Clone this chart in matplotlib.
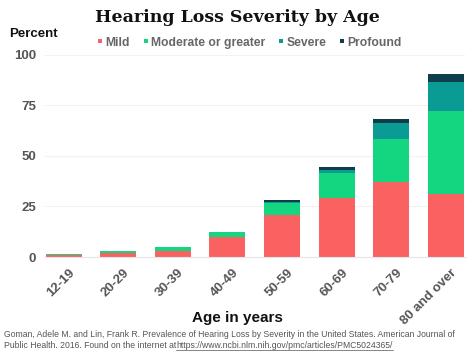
import matplotlib
matplotlib.use("Agg")
import matplotlib.pyplot as plt
import matplotlib.transforms as mtransforms
from matplotlib.lines import Line2D
import numpy as np

# dados (percentual por faixa etária)
idades = ["12-19", "20-29", "30-39", "40-49", "50-59", "60-69", "70-79", "80 and over"]
leve = [0.8, 2.0, 3.0, 9.7, 21.0, 29.0, 37.2, 31.0]
moderada = [0.7, 0.9, 2.0, 2.6, 5.8, 12.5, 21.3, 41.3]
severa = [0.0, 0.0, 0.0, 0.2, 0.6, 1.7, 7.8, 14.0]
profunda = [0.0, 0.0, 0.0, 0.0, 0.9, 1.5, 1.9, 4.2]

nomes = ["Mild", "Moderate or greater", "Severe", "Profound"]
cores = ["#fa6262", "#14d580", "#0a9b95", "#0e3d4c"]
series = [leve, moderada, severa, profunda]

plt.rcParams["font.family"] = ["Liberation Sans", "DejaVu Sans"]

fig = plt.figure(figsize=(4.74, 3.55), dpi=100)
ax = fig.add_axes([0.094, 0.276, 0.887, 0.57])

x = np.arange(len(idades))
base = np.zeros(len(idades))
for nome, cor, vals in zip(nomes, cores, series):
    ax.bar(x, vals, bottom=base, width=0.66, color=cor, label=nome, linewidth=0)
    base += np.array(vals)

ax.set_xlim(-0.35, 7.35)
ax.set_ylim(0, 100)
ax.set_yticks([0, 25, 50, 75, 100])
ax.yaxis.grid(True, color="#f2f2f2", linewidth=0.8)
ax.set_axisbelow(True)
for s in ["top", "right", "left"]:
    ax.spines[s].set_visible(False)
ax.spines["bottom"].set_color("#e6e6e6")
ax.tick_params(axis="both", length=0, colors="#555555", labelsize=9.5)
ax.tick_params(axis="y", pad=6)
ax.tick_params(axis="x", pad=7)
for lab in ax.get_yticklabels():
    lab.set_fontweight("bold")
ax.set_xticks(x)
ax.set_xticklabels(idades, rotation=45, ha="right", rotation_mode="anchor",
                   fontweight="bold", color="#555555")
desloc = mtransforms.ScaledTranslation(5 / 100, 0, fig.dpi_scale_trans)
for lab in ax.get_xticklabels():
    lab.set_transform(lab.get_transform() + desloc)

fig.text(0.5, 0.104, "Age in years", ha="center", va="center", fontsize=11,
         fontweight="bold", color="#111111")

fig.text(0.5, 0.95, "Hearing Loss Severity by Age", ha="center", va="center",
         fontsize=12.5, fontweight="bold", family="DejaVu Serif", color="#111111")
fig.text(0.02, 0.905, "Percent", ha="left", va="center", fontsize=9.5,
         fontweight="bold", color="#111111")

# legenda com pequenos quadrados
marcas = [Line2D([], [], marker="s", linestyle="none", markersize=2.5,
                 markerfacecolor=c, markeredgewidth=0) for c in cores]
leg = fig.legend(marcas, nomes, loc="center", bbox_to_anchor=(0.527, 0.88), ncol=4,
                 frameon=False, fontsize=8.7, handlelength=0.4, handletextpad=0.25,
                 columnspacing=1.1)
for t in leg.get_texts():
    t.set_color("#666666")
    t.set_fontweight("bold")

fig.text(0.008, 0.058, "Goman, Adele M. and Lin, Frank R. Prevalence of Hearing Loss by Severity in the United States. American Journal of",
         fontsize=6.2, color="#555555", va="center")
fig.text(0.008, 0.026, "Public Health. 2016. Found on the internet at", fontsize=6.2, color="#555555", va="center")
fig.text(0.372, 0.026, "https://www.ncbi.nlm.nih.gov/pmc/articles/PMC5024365/", fontsize=6.2,
         color="#555555", va="center")
fig.add_artist(plt.Line2D([0.372, 0.83], [0.014, 0.014], color="#555555", linewidth=0.5))

fig.savefig("out.png", dpi=100, facecolor="white")
